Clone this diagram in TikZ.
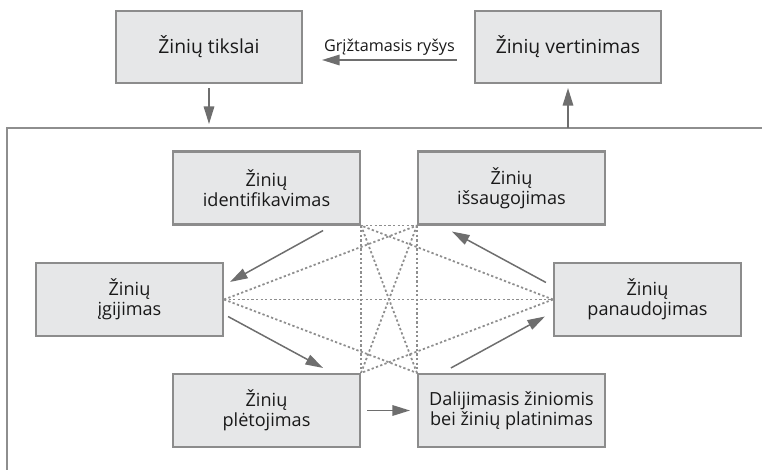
\documentclass[tikz,border=0pt]{standalone}
\usepackage{fontspec}
\setmainfont{Open Sans}
\definecolor{boxfill}{HTML}{E6E7E8}
\definecolor{boxline}{HTML}{8C8C8C}
\definecolor{flowgray}{HTML}{6E6E6E}
\definecolor{linkgray}{HTML}{8E8E8E}
\tikzset{
    stage/.style={draw=boxline, line width=1.2pt, fill=boxfill, rectangle, minimum width=3.74cm, minimum height=1.46cm, inner sep=0pt, align=center, text=black!90, font=\fontsize{10.3}{11.6}\selectfont},
    goal/.style={stage, minimum width=3.72cm, minimum height=1.44cm, font=\fontsize{11}{13}\selectfont},
    note/.style={inner sep=0pt, text=black!90, font=\fontsize{9.2}{11}\selectfont},
    flow/.style = {-{Triangle[length=10pt, width=6pt]}, draw=flowgray, fill=flowgray, line width=0.85pt},
    link/.style = {draw=linkgray, line width=1pt, dash pattern=on 1.3pt off 1.3pt},
    zone/.style = {draw=linkgray, line width=0.9pt} }
\usetikzlibrary{arrows.meta, positioning}

\begin{document}
\begin{tikzpicture}[x=0.02cm, y=-0.02cm]
			\useasboundingbox (0,0) rectangle (762,470);
			\node[goal] (tikslai) at (209,47) {Žinių tikslai};
			\node[goal] (vertinimas) at (568,47) {Žinių vertinimas};
			\node[stage] (identifikavimas) at (266.5,188) {Žinių\\identifikavimas};
			\node[stage] (issaugojimas) at (511.5,188) {Žinių\\išsaugojimas};
			\node[stage] (igijimas) at (129.5,299.5) {Žinių\\įgijimas};
			\node[stage] (panaudojimas) at (647.5,299.5) {Žinių\\panaudojimas};
			\node[stage] (pletojimas) at (266.5,410.5) {Žinių\\plėtojimas};
			\node[stage] (dalijimasis) at (511.5,410.5) {Dalijimasis žiniomis\\bei žinių platinimas};
			\coordinate (frameTR) at (762,128);
			\coordinate (frameTL) at (7,128);
			\coordinate (frameBL) at (7,470);
			\coordinate (goalIn) at (209,124);
			\coordinate (evalOut) at (568,127.5);
			% ----
			\draw[zone] (frameTR) -- (frameTL) -- (frameBL);
			\draw[flow] ([shift={(0,4)}]tikslai.south) -- (goalIn);
			\draw[flow] (evalOut) -- ([shift={(0,4)}]vertinimas.south);
			\draw[flow] ([shift={(-17,13)}]vertinimas.west) -- node[note, above=2pt] (feedback) {Grįžtamasis ryšys} ([shift={(19,13)}]tikslai.east);
			% ----
			\draw[link] (identifikavimas.south east) -- (issaugojimas.south west);
			\draw[link] (identifikavimas.south east) -- (pletojimas.north east);
			\draw[link] (issaugojimas.south west) -- (dalijimasis.north west);
			\draw[link] (identifikavimas.south east) -- (dalijimasis.north west);
			\draw[link] (issaugojimas.south west) -- (pletojimas.north east);
			\draw[link] (igijimas.east) -- (panaudojimas.west);
			\draw[link] (igijimas.east) -- (issaugojimas.south west);
			\draw[link] (igijimas.east) -- (dalijimasis.north west);
			\draw[link] (panaudojimas.west) -- (identifikavimas.south east);
			\draw[link] (panaudojimas.west) -- (pletojimas.north east);
			% ----
			\draw[flow] ([shift={(-38,5)}]identifikavimas.south east) -- ([shift={(6,20)}]igijimas.north east);
			\draw[flow] ([shift={(4,17)}]igijimas.east) -- ([shift={(-38,-5)}]pletojimas.north east);
			\draw[flow] ([shift={(6,0)}]pletojimas.east) -- ([shift={(-7,0)}]dalijimasis.west);
			\draw[flow] ([shift={(34,-5)}]dalijimasis.north west) -- ([shift={(-8,17)}]panaudojimas.west);
			\draw[flow] ([shift={(-7,-17)}]panaudojimas.west) -- ([shift={(35,6)}]issaugojimas.south west);
		\end{tikzpicture}
\end{document}
